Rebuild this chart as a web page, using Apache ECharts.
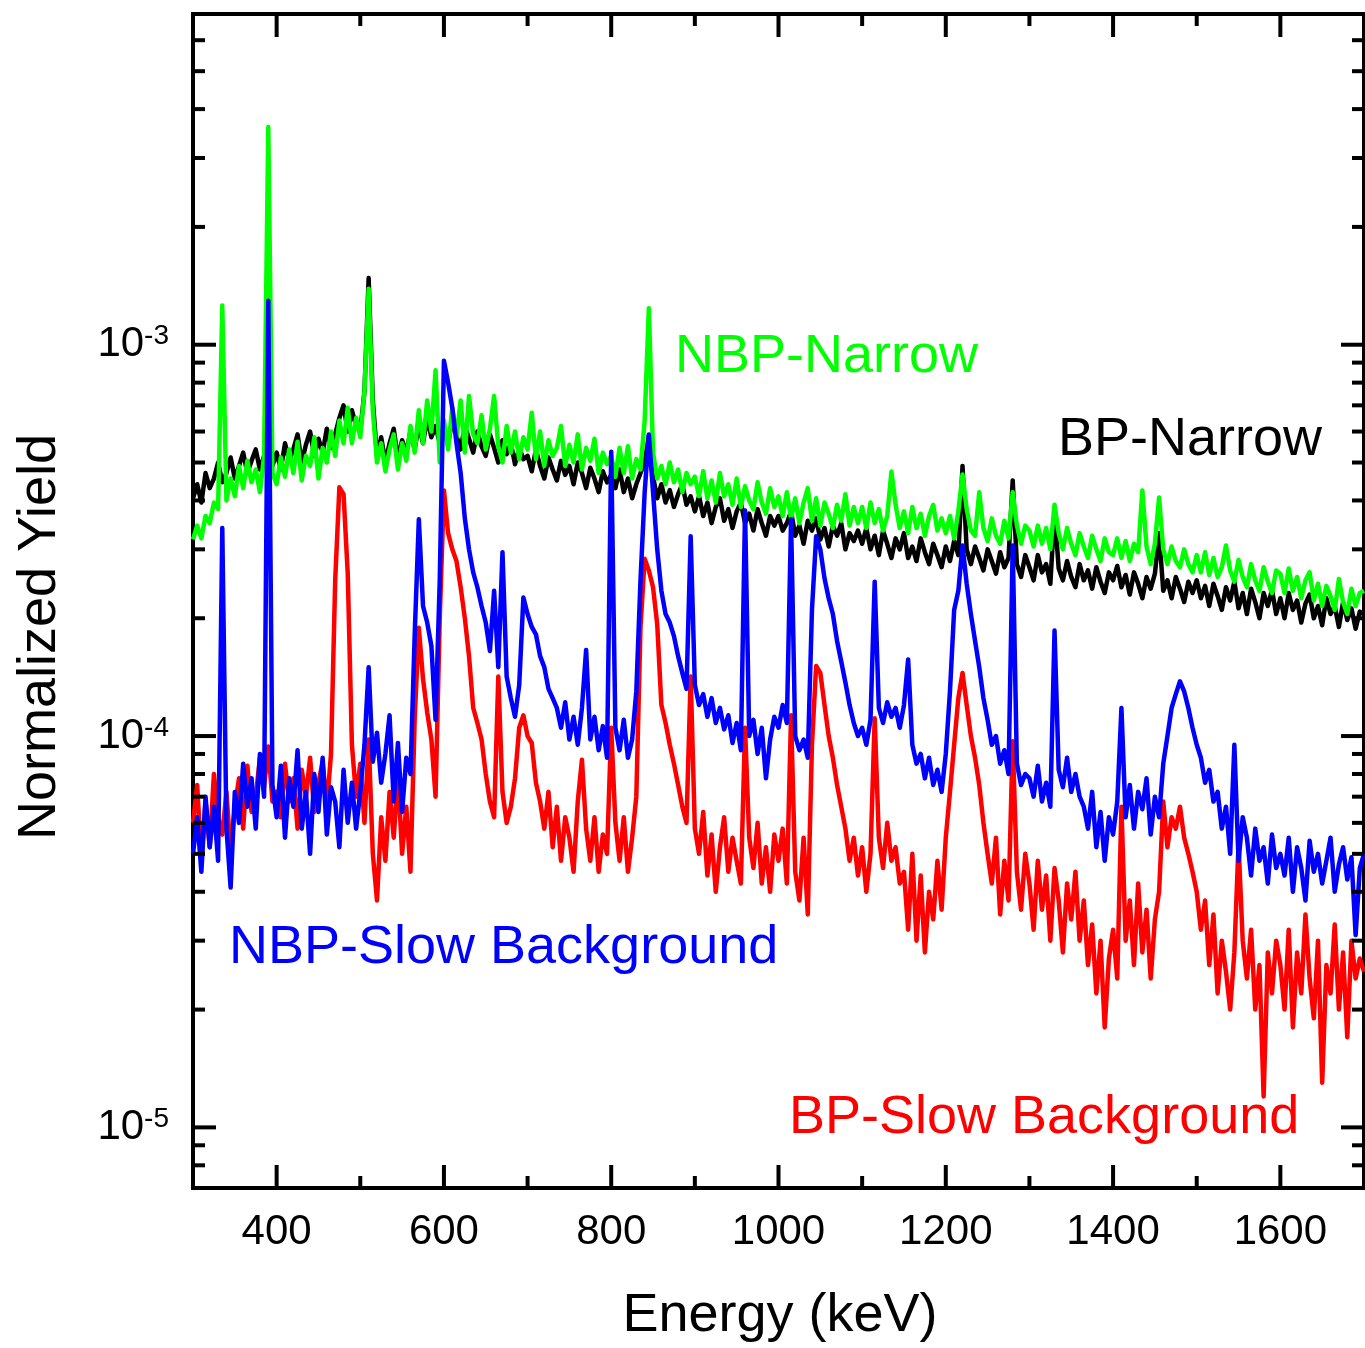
<!DOCTYPE html>
<html>
<head>
<meta charset="utf-8">
<title>Normalized Yield vs Energy</title>
<script src="https://cdn.jsdelivr.net/npm/echarts@6/dist/echarts.min.js"></script>
<style>
  html, body { margin: 0; padding: 0; background: #ffffff; }
  #chart { width: 1365px; height: 1348px; }
</style>
</head>
<body>
<div id="chart"></div>
<script>
// Spectra sampled on a 5 keV channel grid, 300 keV to 1700 keV.
// Yields are stored in units of 1e-6 and scaled when the series are built.
const energyStart = 300;
const energyStep = 5;
const yieldUnit = 1e-6;

// BP-Narrow
const bpNarrow = [
  405,440,395,470,430,455,500,445,470,515,455,490,530,470,505,540,480,520,555,490,
  530,480,560,505,540,590,500,555,600,520,575,530,610,545,590,650,700,600,680,620,
  600,760,1480,720,520,580,500,560,610,510,570,530,600,540,625,560,650,580,620,560,
  610,560,640,585,540,620,575,530,600,550,520,590,545,500,570,525,560,495,545,510,
  520,475,540,490,455,515,480,450,505,465,490,440,500,470,430,485,455,420,475,445,
  465,430,480,420,455,405,440,470,500,586,460,405,440,395,425,385,415,440,390,410,
  375,410,365,395,350,385,405,355,380,340,375,395,350,370,335,380,350,325,365,345,
  365,335,350,375,325,345,310,355,335,360,318,340,305,345,325,350,300,330,315,335,
  310,340,300,325,290,335,310,285,320,300,330,285,305,280,320,295,275,310,290,270,
  305,280,315,290,490,300,275,305,285,265,300,280,260,295,270,285,450,275,255,290,
  270,250,290,262,275,245,375,268,250,280,255,240,275,250,265,238,270,248,232,262,
  250,272,240,258,230,262,245,225,255,238,260,330,235,250,225,255,238,220,248,232,
  250,225,242,215,245,228,210,240,222,248,212,232,205,238,220,200,232,215,236,205,
  225,200,232,210,222,195,218,230,200,215,192,225,205,215,190,220,198,212,188,208,
  205
];

// NBP-Narrow
const nbpNarrow = [
  318,345,320,365,350,395,380,1260,400,455,410,490,430,505,445,480,420,520,3600,470,
  440,515,460,540,470,565,450,520,490,580,455,545,500,600,520,640,560,690,560,650,
  580,760,1390,680,500,560,475,540,590,480,560,505,620,530,680,560,720,600,860,500,
  640,540,690,580,720,530,740,590,560,660,540,610,740,550,500,620,530,600,510,580,
  540,670,510,600,490,570,520,545,620,490,555,500,590,480,545,505,575,470,530,495,
  520,460,545,470,550,455,510,480,640,1240,530,455,490,440,500,445,480,420,470,440,
  460,410,475,405,450,395,470,410,440,390,455,385,435,400,380,445,395,370,430,385,
  410,365,420,360,405,350,395,430,355,405,345,395,370,340,390,355,415,345,385,350,
  385,340,395,350,380,335,365,474,390,340,375,330,385,340,370,325,365,390,335,360,
  330,365,320,375,466,380,335,325,420,340,315,360,325,310,355,320,420,345,310,345,
  335,305,345,310,340,300,390,330,300,340,310,290,330,305,285,325,300,280,320,295,
  290,320,285,315,280,310,295,424,305,275,310,407,300,275,305,280,270,300,275,262,
  290,262,295,258,285,255,270,307,265,248,282,255,240,275,250,235,270,248,232,265,
  260,232,268,235,255,225,250,262,222,245,215,242,228,210,252,220,205,238,215,232,
  235
];

// BP-Slow Background
const bpSlow = [
  60,75,48,68,52,80,62,56,72,50,66,78,58,84,64,70,88,74,94,68,
  72,62,85,68,78,58,82,70,88,64,76,86,66,90,250,432,415,260,95,70,
  85,60,98,50,38,62,48,72,55,80,50,66,45,110,189,140,115,98,70,200,
  424,330,300,280,240,200,160,118,108,98,80,68,62,142,72,60,66,78,105,113,
  100,96,76,68,58,72,52,66,48,62,55,45,68,87,58,48,62,45,56,50,
  105,60,48,62,45,55,70,190,284,265,240,193,120,108,95,85,75,66,60,142,
  58,50,64,44,56,40,52,62,45,55,48,42,105,55,46,60,42,52,40,56,
  48,58,42,113,45,38,55,35,95,151,145,120,100,88,75,66,58,48,55,44,
  52,40,50,111,55,46,60,48,52,42,45,32,50,30,44,28,40,34,48,36,
  55,72,95,125,145,120,100,88,75,60,50,42,55,35,48,38,97,45,36,50,
  42,32,48,36,44,30,46,38,28,42,34,45,30,38,26,33,22,30,18,27,
  32,24,66,30,38,26,42,28,36,24,34,40,68,52,62,58,66,55,50,45,
  40,32,38,26,35,22,30,25,20,28,53,30,24,32,20,26,12,28,22,30,
  26,20,32,18,28,22,35,24,19,30,13,26,22,33,20,28,17,30,24,27,
  25
];

// NBP-Slow Background
const nbpSlow = [
  50,62,45,70,52,66,48,340,58,41,72,60,85,66,78,58,90,70,1295,75,
  62,84,55,78,66,92,58,72,50,80,64,88,56,74,68,52,82,60,76,58,
  72,95,150,86,102,76,90,113,68,96,64,88,80,180,358,215,195,170,110,250,
  910,800,690,560,470,360,300,262,240,215,195,165,235,150,295,142,125,112,135,226,
  205,190,182,160,150,132,125,118,105,122,98,112,95,118,166,98,112,92,106,88,
  533,105,92,110,88,98,130,250,420,590,420,300,235,205,195,180,160,145,132,324,
  135,120,128,112,125,108,118,104,113,96,108,92,377,100,110,90,105,78,98,112,
  105,120,108,358,100,92,98,88,210,324,300,253,225,205,175,155,137,120,108,100,
  105,95,110,248,118,108,122,112,118,105,120,157,95,85,90,78,88,75,82,72,
  90,130,210,235,307,245,205,175,150,125,110,95,100,85,92,80,307,85,75,80,
  78,70,84,68,76,66,186,82,74,88,72,80,70,66,58,72,52,64,48,62,
  56,68,118,62,75,58,72,65,78,56,70,62,85,100,118,128,138,130,118,105,
  95,88,76,82,68,72,58,66,50,95,48,62,55,44,58,48,52,42,56,46,
  50,44,55,40,52,46,38,54,45,50,42,48,55,40,47,52,43,49,31,46,
  50
];

// Axis ranges and tick values
const energyMin = 300, energyMax = 1700;
const yieldMin = 7e-6, yieldMax = 7e-3;
const xMajorTicks = [400, 600, 800, 1000, 1200, 1400, 1600];
const xMinorTicks = [500, 700, 900, 1100, 1300, 1500];
const yMajorTicks = [1e-5, 1e-4, 1e-3];
const yMinorMantissas = [2, 3, 4, 5, 6, 7, 8, 9];

const FONT = '"Liberation Sans", Arial, Helvetica, sans-serif';
const FRAME_WIDTH = 4;
const TRACE_WIDTH = 4.5;

function toPairs(values) {
  return values.map((v, i) => [energyStart + i * energyStep, v * yieldUnit]);
}

// minor decade ticks inside the plotted range
const yMinorTicks = [];
[1e-6, 1e-5, 1e-4, 1e-3].forEach(dec => {
  yMinorMantissas.forEach(m => {
    const v = m * dec;
    if (v > yieldMin * 1.001 && v < yieldMax * 0.999) yMinorTicks.push(v);
  });
});

// inward ticks on the bottom and top frame edges
function xTickSeries(values, len) {
  return {
    type: 'custom', silent: true, clip: false, z: 10, animation: false,
    data: values.map(v => [v, yieldMin]),
    renderItem: (params, api) => {
      const e = api.value(0);
      const b = api.coord([e, yieldMin]);
      const t = api.coord([e, yieldMax]);
      return {
        type: 'group',
        children: [
          { type: 'line', shape: { x1: b[0], y1: b[1], x2: b[0], y2: b[1] - len }, style: { stroke: '#000', lineWidth: FRAME_WIDTH } },
          { type: 'line', shape: { x1: t[0], y1: t[1], x2: t[0], y2: t[1] + len }, style: { stroke: '#000', lineWidth: FRAME_WIDTH } }
        ]
      };
    }
  };
}

// inward ticks on the left and right frame edges
function yTickSeries(values, len) {
  return {
    type: 'custom', silent: true, clip: false, z: 10, animation: false,
    data: values.map(v => [energyMin, v]),
    renderItem: (params, api) => {
      const v = api.value(1);
      const l = api.coord([energyMin, v]);
      const r = api.coord([energyMax, v]);
      return {
        type: 'group',
        children: [
          { type: 'line', shape: { x1: l[0], y1: l[1], x2: l[0] + len, y2: l[1] }, style: { stroke: '#000', lineWidth: FRAME_WIDTH } },
          { type: 'line', shape: { x1: r[0], y1: r[1], x2: r[0] - len, y2: r[1] }, style: { stroke: '#000', lineWidth: FRAME_WIDTH } }
        ]
      };
    }
  };
}

function spectrum(name, values, color) {
  return {
    name: name,
    type: 'line',
    data: toPairs(values),
    showSymbol: false,
    symbol: 'none',
    animation: false,
    silent: true,
    lineStyle: { color: color, width: TRACE_WIDTH, join: 'round' },
    itemStyle: { color: color }
  };
}

const chart = echarts.init(document.getElementById('chart'), null, { renderer: 'canvas' });

chart.setOption({
  backgroundColor: '#ffffff',
  animation: false,
  grid: {
    left: 193, top: 14, width: 1171, height: 1174,
    show: true, borderColor: '#000', borderWidth: FRAME_WIDTH, backgroundColor: 'transparent',
    containLabel: false, outerBoundsMode: 'none'
  },
  xAxis: {
    type: 'value',
    min: energyMin, max: energyMax, interval: 100,
    axisLine: { show: false },
    axisTick: { show: false },
    splitLine: { show: false },
    axisLabel: {
      margin: 23,
      color: '#000',
      fontFamily: FONT,
      fontSize: 42,
      showMinLabel: false, showMaxLabel: false,
      hideOverlap: false,
      formatter: v => (xMajorTicks.indexOf(v) >= 0 ? String(v) : '')
    }
  },
  yAxis: {
    type: 'log',
    logBase: 10,
    min: yieldMin, max: yieldMax,
    axisLine: { show: false },
    axisTick: { show: false },
    splitLine: { show: false },
    minorSplitLine: { show: false },
    axisLabel: {
      margin: 24,
      showMinLabel: false, showMaxLabel: false,
      hideOverlap: false,
      formatter: v => {
        const p = Math.log10(v);
        if (Math.abs(p - Math.round(p)) > 1e-6) return '';
        return '{b|10}{s|' + Math.round(p) + '}';
      },
      rich: {
        b: { fontFamily: FONT, fontSize: 42, color: '#000', lineHeight: 44 },
        s: { fontFamily: FONT, fontSize: 28, color: '#000', verticalAlign: 'top', lineHeight: 28 }
      }
    }
  },
  graphic: [
    { type: 'text', x: 675, y: 357, silent: true,
      style: { text: 'NBP-Narrow', fill: '#00ff00', font: '54px ' + FONT, align: 'left', verticalAlign: 'middle' } },
    { type: 'text', x: 1058, y: 440, silent: true,
      style: { text: 'BP-Narrow', fill: '#000000', font: '54px ' + FONT, align: 'left', verticalAlign: 'middle' } },
    { type: 'text', x: 229, y: 948, silent: true,
      style: { text: 'NBP-Slow Background', fill: '#0000ff', font: '54px ' + FONT, align: 'left', verticalAlign: 'middle' } },
    { type: 'text', x: 789, y: 1118, silent: true,
      style: { text: 'BP-Slow Background', fill: '#ff0000', font: '54px ' + FONT, align: 'left', verticalAlign: 'middle' } },
    { type: 'text', x: 780, y: 1316, silent: true,
      style: { text: 'Energy (keV)', fill: '#000000', font: '54px ' + FONT, align: 'center', verticalAlign: 'middle' } },
    { type: 'text', x: 40, y: 637, rotation: Math.PI / 2, silent: true,
      style: { text: 'Normalized Yield', fill: '#000000', font: '54px ' + FONT, align: 'center', verticalAlign: 'middle' } }
  ],
  series: [
    spectrum('BP-Narrow', bpNarrow, '#000000'),
    spectrum('NBP-Narrow', nbpNarrow, '#00ff00'),
    spectrum('BP-Slow Background', bpSlow, '#ff0000'),
    spectrum('NBP-Slow Background', nbpSlow, '#0000ff'),
    xTickSeries(xMajorTicks, 23),
    xTickSeries(xMinorTicks, 12),
    yTickSeries(yMajorTicks, 23),
    yTickSeries(yMinorTicks, 12)
  ]
});
</script>
</body>
</html>
